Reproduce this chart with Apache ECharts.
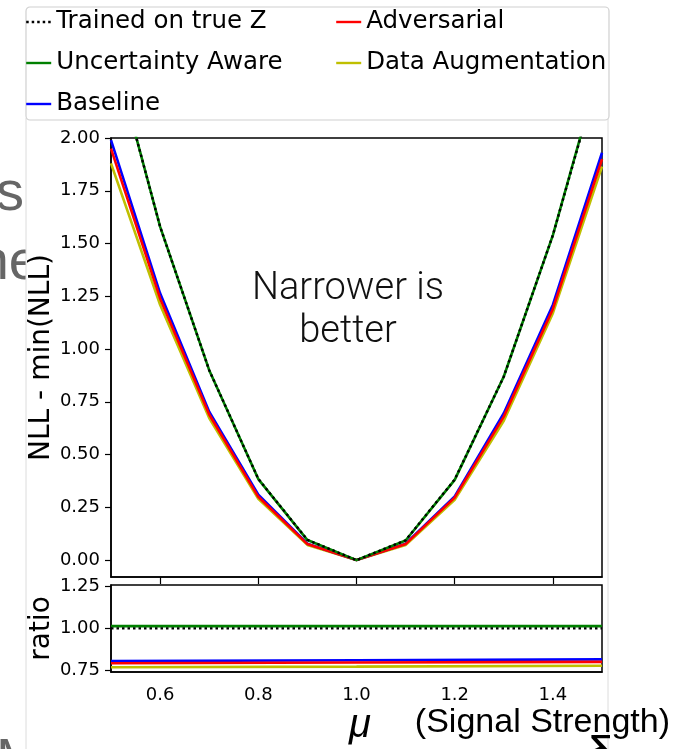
<!DOCTYPE html>
<html>
<head>
<meta charset="utf-8">
<script src="https://cdn.jsdelivr.net/npm/echarts@6/dist/echarts.min.js"></script>
<style>
  html, body { margin: 0; padding: 0; background: #fff; }
  #chart { width: 681px; height: 749px; }
</style>
</head>
<body>
<div id="chart"></div>
<script>
// 数据 - 从图上读出来的
var mu = [0.5, 0.6, 0.7, 0.8, 0.9, 1.0, 1.1, 1.2, 1.3, 1.4, 1.5];
var trueZ = [2.45, 1.58, 0.90, 0.385, 0.096, 0, 0.094, 0.382, 0.87, 1.54, 2.36];
var uncAware = [2.45, 1.58, 0.90, 0.384, 0.095, 0, 0.093, 0.38, 0.87, 1.54, 2.37];
var baseline = [1.99, 1.264, 0.703, 0.31, 0.078, 0, 0.078, 0.302, 0.696, 1.21, 1.93];
var adversarial = [1.95, 1.24, 0.69, 0.30, 0.076, 0, 0.076, 0.296, 0.68, 1.19, 1.90];
var dataAug = [1.88, 1.21, 0.673, 0.29, 0.072, 0, 0.072, 0.286, 0.66, 1.17, 1.865];

// ratio panel
var ratioMu = [0.5, 1.0, 1.5];
var ratioTrueZ = [1.0, 1.0, 1.0];
var ratioUnc = [1.013, 1.013, 1.013];
var ratioBase = [0.805, 0.810, 0.815];
var ratioAdv = [0.792, 0.797, 0.800];
var ratioAug = [0.768, 0.772, 0.777];

var xTicks = [0.6, 0.8, 1.0, 1.2, 1.4];
var mainYTicks = [0, 0.25, 0.5, 0.75, 1.0, 1.25, 1.5, 1.75, 2.0];
var ratioYTicks = [0.75, 1.0, 1.25];

function pairs(xs, ys) {
    return xs.map(function (x, i) { return [x, ys[i]]; });
}

var chart = echarts.init(document.getElementById('chart'));

var FONT = 'DejaVu Sans';
var axisBlack = { color: '#000', width: 1.5 };

function lineSeries(name, xs, ys, color, idx, dotted) {
    return {
        name: name,
        type: 'line',
        xAxisIndex: idx,
        yAxisIndex: idx,
        data: pairs(xs, ys),
        symbol: 'none',
        animation: false,
        clip: true,
        lineStyle: dotted
            ? { color: '#000', width: 2.4, type: [2.5, 3] }
            : { color: color, width: 2.6 },
        itemStyle: { color: dotted ? '#000' : color }
    };
}

function legendBlock(left, names) {
    return {
        orient: 'vertical',
        left: left,
        top: 8,
        padding: 0,
        itemWidth: 25,
        itemHeight: 14,
        itemGap: 13,
        data: names,
        // 只要线，不要圆点
        itemStyle: { color: 'transparent', borderColor: 'transparent', borderWidth: 0 },
        lineStyle: { width: 2.4 },
        textStyle: { fontFamily: FONT, fontSize: 24.5, color: '#000', lineHeight: 28 }
    };
}

var option = {
    backgroundColor: '#fff',
    animation: false,
    graphic: [
        // slide text behind the figure
        { type: 'text', z: -20, style: { text: 's', x: 24, y: 223, textAlign: 'right', textVerticalAlign: 'bottom', font: '56px "Liberation Sans"', fill: '#666' } },
        { type: 'text', z: -20, style: { text: 'he', x: 40, y: 292, textAlign: 'right', textVerticalAlign: 'bottom', font: '56px "Liberation Sans"', fill: '#666' } },
        { type: 'text', z: -20, style: { text: 'M', x: -4, y: 790, textVerticalAlign: 'bottom', font: '56px "Liberation Sans"', fill: '#666' } },
        // white figure panel
        { type: 'rect', z: -10, shape: { x: 26, y: 118, width: 582, height: 660 }, style: { fill: '#fff', stroke: '#dcdcdc', lineWidth: 1 } },
        // legend frame
        { type: 'rect', z: -5, shape: { x: 26, y: 7, width: 583, height: 113, r: 4 }, style: { fill: '#fff', stroke: '#d0d0d0', lineWidth: 1.2 } },
        // annotation
        { type: 'text', z: 10, style: { text: 'Narrower is\nbetter', x: 348, y: 311, textAlign: 'center', textVerticalAlign: 'middle', font: '300 38px Roboto', lineHeight: 43, fill: '#111' } },
        // bottom slide text
        { type: 'text', z: 10, style: { text: 'μ', x: 360, y: 746, textAlign: 'center', textVerticalAlign: 'bottom', font: 'italic 40px "Liberation Sans"', fill: '#000' } },
        { type: 'text', z: 10, style: { text: '(Signal Strength)', x: 670, y: 740, textAlign: 'right', textVerticalAlign: 'bottom', font: '34px "Liberation Sans"', fill: '#000' } },
        { type: 'text', z: 10, style: { text: 'δ', x: 600, y: 785, textAlign: 'center', textVerticalAlign: 'bottom', font: '52px "Liberation Sans"', fill: '#000' } }
    ],
    legend: [
        legendBlock(25, ['Trained on true Z', 'Uncertainty Aware', 'Baseline']),
        legendBlock(335, ['Adversarial', 'Data Augmentation'])
    ],
    grid: [
        { left: 111, top: 138, width: 491, height: 439, show: true, borderColor: '#000', borderWidth: 1.5, backgroundColor: 'transparent', outerBoundsMode: 'none' },
        { left: 111, top: 585, width: 491, height: 87, show: true, borderColor: '#000', borderWidth: 1.5, backgroundColor: 'transparent', outerBoundsMode: 'none' }
    ],
    xAxis: [
        {
            type: 'value', gridIndex: 0, min: 0.5, max: 1.5,
            axisLine: { onZero: false, lineStyle: axisBlack },
            axisTick: { show: true, length: 7, lineStyle: { color: '#000', width: 1.2 }, customValues: xTicks },
            axisLabel: { show: false },
            splitLine: { show: false }
        },
        {
            type: 'value', gridIndex: 1, min: 0.5, max: 1.5,
            axisLine: { onZero: false, lineStyle: axisBlack },
            axisTick: { show: false },
            axisLabel: {
                customValues: xTicks, margin: 14, fontFamily: FONT, fontSize: 18, color: '#000',
                formatter: function (v) { return v.toFixed(1); }
            },
            splitLine: { show: false }
        }
    ],
    yAxis: [
        {
            type: 'value', gridIndex: 0, min: -0.08, max: 2.0,
            name: 'NLL - min(NLL)', nameLocation: 'middle', nameRotate: 90, nameGap: 55, nameMoveOverlap: false,
            nameTextStyle: { fontFamily: FONT, fontSize: 28, color: '#000' },
            axisLine: { show: true, onZero: false, lineStyle: axisBlack },
            axisTick: { show: true, length: 6, lineStyle: { color: '#000', width: 1.2 }, customValues: mainYTicks },
            axisLabel: {
                customValues: mainYTicks, margin: 11, fontFamily: FONT, fontSize: 18, color: '#000',
                formatter: function (v) { return v.toFixed(2); }
            },
            splitLine: { show: false }
        },
        {
            type: 'value', gridIndex: 1, min: 0.74, max: 1.258,
            name: 'ratio', nameLocation: 'middle', nameRotate: 90, nameGap: 55, nameMoveOverlap: false,
            nameTextStyle: { fontFamily: FONT, fontSize: 28, color: '#000' },
            axisLine: { show: true, onZero: false, lineStyle: axisBlack },
            axisTick: { show: true, length: 6, lineStyle: { color: '#000', width: 1.2 }, customValues: ratioYTicks },
            axisLabel: {
                customValues: ratioYTicks, margin: 11, fontFamily: FONT, fontSize: 18, color: '#000',
                formatter: function (v) { return v.toFixed(2); }
            },
            splitLine: { show: false }
        }
    ],
    series: [
        lineSeries('Data Augmentation', mu, dataAug, '#bfbf00', 0),
        lineSeries('Baseline', mu, baseline, '#0000ff', 0),
        lineSeries('Adversarial', mu, adversarial, '#ff0000', 0),
        lineSeries('Uncertainty Aware', mu, uncAware, '#008000', 0),
        lineSeries('Trained on true Z', mu, trueZ, '#000', 0, true),

        lineSeries('Data Augmentation', ratioMu, ratioAug, '#bfbf00', 1),
        lineSeries('Baseline', ratioMu, ratioBase, '#0000ff', 1),
        lineSeries('Adversarial', ratioMu, ratioAdv, '#ff0000', 1),
        lineSeries('Uncertainty Aware', ratioMu, ratioUnc, '#008000', 1),
        lineSeries('Trained on true Z', ratioMu, ratioTrueZ, '#000', 1, true)
    ]
};

chart.setOption(option);
</script>
</body>
</html>
